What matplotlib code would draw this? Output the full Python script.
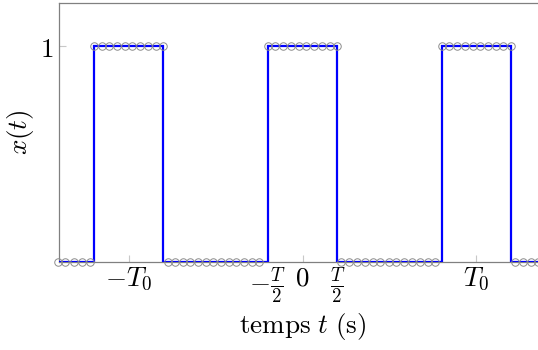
import matplotlib
matplotlib.use("Agg")
import matplotlib.pyplot as plt

plt.rcParams['mathtext.fontset'] = 'cm'
plt.rcParams['font.family'] = ['DejaVu Serif']

# Square wave (T0 = 2.5, T = 1 in plot units)
edges = [-3.5, -3.0, -2.0, -0.5, 0.5, 2.0, 3.0, 3.5]
levels = [0, 1, 0, 1, 0, 1, 0]

# Sample markers
t_low = [-3.52, -3.41, -3.29, -3.17, -3.06,
         -1.94, -1.83, -1.72, -1.61, -1.50, -1.39, -1.28, -1.17, -1.06, -0.95, -0.84, -0.73, -0.62,
         0.56, 0.67, 0.79, 0.90, 1.01, 1.12, 1.24, 1.35, 1.46, 1.57, 1.69, 1.80, 1.91,
         3.06, 3.17, 3.28, 3.39, 3.50]
t_high = [-3.0, -2.889, -2.778, -2.667, -2.556, -2.444, -2.333, -2.222, -2.111, -2.0,
          -0.5, -0.389, -0.278, -0.167, -0.056, 0.056, 0.167, 0.278, 0.389, 0.5,
          2.0, 2.111, 2.222, 2.333, 2.444, 2.556, 2.667, 2.778, 2.889, 3.0]
x_low = [0] * len(t_low)
x_high = [1] * len(t_high)

xtick_pos = [-2.5, -0.5, 0, 0.5, 2.5]
xtick_labels = [r'$-T_0$', r'$-\frac{T}{2}$', r'$0$', r'$\frac{T}{2}$', r'$T_0$']
ytick_pos = [1]
ytick_labels = [r'$1$']

FS = 19.5

fig = plt.figure(figsize=(5.38, 3.5), dpi=100)
ax = fig.add_axes([59/538, 88/350, 487/538, 259/350])

# step line
xs, ys = [], []
for i, lv in enumerate(levels):
    xs += [edges[i], edges[i+1]]
    ys += [lv, lv]
ax.plot(xs, ys, color='#0000ff', lw=1.6, zorder=3, solid_joinstyle='miter')

mk = dict(marker='o', ls='none', ms=5.4, mfc='none', mec='#8c8c8c', mew=0.7, clip_on=False, zorder=4)
ax.plot(t_low, x_low, **mk)
ax.plot(t_high, x_high, **mk)

ax.set_xlim(-3.5, 3.5)
ax.set_ylim(0, 1.2)
ax.set_xticks(xtick_pos)
ax.set_xticklabels(xtick_labels, fontsize=FS)
ax.set_yticks(ytick_pos)
ax.set_yticklabels(ytick_labels, fontsize=FS)
ax.tick_params(direction='in', length=5, width=0.8, color='#c8c8c8', pad=2)
ax.tick_params(axis='y', pad=4)
for s in ax.spines.values():
    s.set_color('#808080')
    s.set_linewidth(0.9)

ax.set_xlabel(r'$\mathrm{temps}\ t\ \mathrm{(s)}$', fontsize=FS, labelpad=5)
ax.set_ylabel(r'$x(t)$', fontsize=FS, labelpad=3)

fig.savefig('out.png', dpi=100)
